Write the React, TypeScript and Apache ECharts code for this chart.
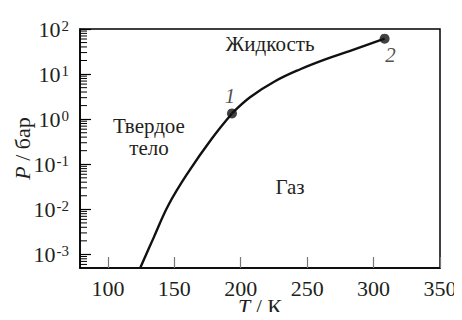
import React, { useEffect, useRef } from "react";
import * as echarts from "echarts";

// Sublimation curve (solid–gas), T in K, P in bar
const sublimT = [124.3, 134.3, 145.6, 160.7, 178.3, 193.4];
const sublimP = [5.0e-4, 2.3e-3, 1.25e-2, 6.8e-2, 0.374, 1.34];
// Vaporization curve (liquid–gas)
const vaporT = [193.4, 207.0, 225.8, 244.8, 263.6, 282.4, 308.3];
const vaporP = [1.34, 3.07, 6.93, 12.8, 21.2, 32.8, 61.0];
// Special points: 1 = triple point, 2 = critical point
const pointT = [193.4, 308.3];
const pointP = [1.34, 61.0];
const pointLabels = ["1", "2"];

const xTicks = [100, 150, 200, 250, 300, 350];
const yMajor = [1e-3, 1e-2, 1e-1, 1, 10, 100];
const yMinor: number[] = [];
for (let d = -4; d <= 1; d++) {
  for (let m = 2; m <= 9; m++) {
    const v = m * Math.pow(10, d);
    if (v > 5.05e-4 && v < 100) yMinor.push(v);
  }
}

const X_MIN = 79;
const X_MAX = 350;
const Y_MIN = 5e-4;
const Y_MAX = 100;

const FONT = "Liberation Serif";
const TXT = "#231f20";

export default function App() {
  const ref = useRef<HTMLDivElement>(null);
  useEffect(() => {
    if (!ref.current) return;
    const chart = echarts.init(ref.current, null, { renderer: "svg" });
    chart.setOption({
      animation: false,
      textStyle: { fontFamily: FONT },
      grid: {
        left: 80,
        right: 22,
        top: 29,
        bottom: 52,
        outerBoundsMode: "none",
        containLabel: false,
        show: true,
        borderColor: "#000",
        borderWidth: 1.5,
        backgroundColor: "transparent",
      },
      xAxis: {
        type: "value",
        min: X_MIN,
        max: X_MAX,
        name: "{i|T}{r| / К}",
        nameLocation: "middle",
        nameGap: 31,
        nameMoveOverlap: false,
        nameTextStyle: {
          fontFamily: FONT,
          fontSize: 22,
          lineHeight: 14,
          color: TXT,
          rich: {
            i: { fontFamily: FONT, fontSize: 22, lineHeight: 14, fontStyle: "italic", color: TXT },
            r: { fontFamily: FONT, fontSize: 22, lineHeight: 14, color: TXT },
          },
        },
        axisLine: { show: true, lineStyle: { color: "#000", width: 1.5 } },
        axisTick: {
          show: true,
          inside: true,
          length: 11,
          customValues: xTicks,
          lineStyle: { color: "#777", width: 1.2 },
        },
        axisLabel: {
          customValues: xTicks,
          margin: 9,
          fontFamily: FONT,
          fontSize: 22,
          color: TXT,
        },
        splitLine: { show: false },
      },
      yAxis: {
        type: "log",
        logBase: 10,
        min: Y_MIN,
        max: Y_MAX,
        name: "{i|P} / бар",
        nameLocation: "middle",
        nameRotate: 90,
        nameGap: 47,
        nameMoveOverlap: false,
        nameTextStyle: {
          fontFamily: FONT,
          fontSize: 22,
          color: TXT,
          rich: { i: { fontFamily: FONT, fontSize: 22, fontStyle: "italic", color: TXT } },
        },
        axisLine: { show: true, lineStyle: { color: "#000", width: 1.5 } },
        axisTick: {
          show: true,
          inside: true,
          length: 11,
          customValues: yMajor,
          lineStyle: { color: "#000", width: 1.2 },
        },
        axisLabel: {
          customValues: yMajor,
          margin: 11,
          formatter: (v: number) => {
            const e = Math.round(Math.log10(v));
            return "{b|10}{s|" + (e < 0 ? "-" + -e : String(e)) + "}";
          },
          rich: {
            b: { fontFamily: FONT, fontSize: 22, color: TXT, lineHeight: 22, verticalAlign: "bottom" },
            s: {
              fontFamily: FONT,
              fontSize: 15,
              color: TXT,
              lineHeight: 15,
              verticalAlign: "top",
              padding: [0, 0, 12, 1],
            },
          },
        },
        splitLine: { show: false },
        minorTick: { show: false },
      },
      series: [
        {
          type: "custom",
          name: "minorTicks",
          silent: true,
          data: yMinor.map((v) => [X_MIN, v]),
          renderItem: (params: any, api: any) => {
            const p = api.coord([api.value(0), api.value(1)]);
            return {
              type: "line",
              shape: { x1: p[0], y1: p[1], x2: p[0] + 7, y2: p[1] },
              style: { stroke: "#000", lineWidth: 1 },
            };
          },
          z: 3,
        },
        {
          type: "line",
          name: "sublimation",
          data: sublimT.map((t, i) => [t, sublimP[i]]),
          smooth: 0.4,
          symbol: "none",
          lineStyle: { color: "#111", width: 2.4 },
        },
        {
          type: "line",
          name: "vaporization",
          data: vaporT.map((t, i) => [t, vaporP[i]]),
          smooth: 0.4,
          symbol: "none",
          lineStyle: { color: "#111", width: 2.4 },
        },
        {
          type: "scatter",
          name: "points",
          data: pointT.map((t, i) => ({
            value: [t, pointP[i]],
            label: {
              show: true,
              formatter: pointLabels[i],
              position: i === 0 ? "top" : "bottom",
              offset: i === 0 ? [-2, 3] : [6, -4],
              fontFamily: FONT,
              fontSize: 21,
              fontStyle: "italic",
              color: TXT,
            },
          })),
          symbol: "circle",
          symbolSize: 10,
          itemStyle: { color: "#111" },
          z: 5,
        },
      ],
      graphic: [
        {
          type: "text",
          x: 270,
          y: 44,
          style: {
            text: "Жидкость",
            fontFamily: FONT,
            fontSize: 21,
            fill: TXT,
            align: "center",
            verticalAlign: "middle",
          },
        },
        {
          type: "text",
          x: 149,
          y: 137,
          style: {
            text: "Твердое\nтело",
            fontFamily: FONT,
            fontSize: 21,
            lineHeight: 22,
            fill: TXT,
            align: "center",
            verticalAlign: "middle",
          },
        },
        {
          type: "text",
          x: 290,
          y: 187,
          style: {
            text: "Газ",
            fontFamily: FONT,
            fontSize: 21,
            fill: TXT,
            align: "center",
            verticalAlign: "middle",
          },
        },
      ],
    });
    return () => chart.dispose();
  }, []);
  return <div ref={ref} style={{ width: 462, height: 320, margin: -8 }} />;
}
